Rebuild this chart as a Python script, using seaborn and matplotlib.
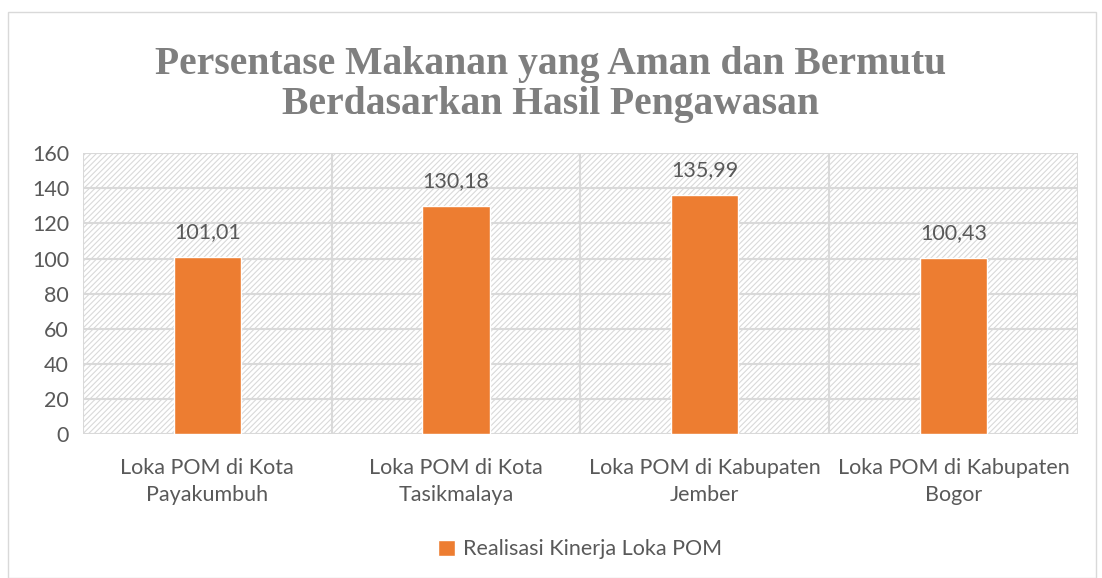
import numpy as np
import pandas as pd
import matplotlib.pyplot as plt
import seaborn as sns
from matplotlib.patches import Rectangle

kategori = ["Loka POM di Kota\nPayakumbuh", "Loka POM di Kota\nTasikmalaya",
            "Loka POM di Kabupaten\nJember", "Loka POM di Kabupaten\nBogor"]
nilai = [101.01, 130.18, 135.99, 100.43]
label_nilai = ["101,01", "130,18", "135,99", "100,43"]
seri = "Realisasi Kinerja Loka POM"
yticks = [0, 20, 40, 60, 80, 100, 120, 140, 160]

ORANYE = "#ED7D31"
ABU = "#595959"
GARIS = "#D9D9D9"
FS = 15.5


def main():
    sns.set_style("white")
    plt.rcParams["font.family"] = ["Lato", "DejaVu Sans"]
    plt.rcParams["hatch.linewidth"] = 0.8
    plt.rcParams["hatch.color"] = GARIS

    df = pd.DataFrame({"kategori": kategori, "nilai": nilai})

    fig = plt.figure(figsize=(11.02, 5.78), dpi=100)
    ax = fig.add_axes([0.0753, 0.249, 0.9027, 0.486])

    # latar belakang bergaris miring
    bg = Rectangle((0, 0), 1, 1, transform=ax.transAxes, facecolor="white",
                   edgecolor=GARIS, hatch="//////", linewidth=0, zorder=0)
    ax.add_patch(bg)

    sns.barplot(data=df, x="kategori", y="nilai", color=ORANYE, width=0.27,
                saturation=1, ax=ax, zorder=3, label=seri)

    for i, (v, t) in enumerate(zip(nilai, label_nilai)):
        ax.text(i, v + 8.5, t, ha="center", va="bottom", fontsize=FS, color=ABU, zorder=4)

    ax.set_ylim(0, 160)
    ax.set_xlim(-0.5, 3.5)
    ax.set_yticks(yticks)
    ax.set_yticklabels([str(y) for y in yticks], fontsize=FS, color=ABU)
    ax.set_xticks(range(len(kategori)))
    ax.set_xticklabels(kategori, fontsize=FS, color=ABU, linespacing=1.45)
    ax.tick_params(axis="y", length=0, pad=10)
    ax.tick_params(axis="x", length=0, pad=17)
    ax.set_xlabel("")
    ax.set_ylabel("")

    for y in yticks:
        ax.axhline(y, color=GARIS, linewidth=1.5, zorder=1)
    for x in [-0.5, 0.5, 1.5, 2.5, 3.5]:
        ax.axvline(x, color=GARIS, linewidth=1.5, zorder=1)
    for s in ax.spines.values():
        s.set_visible(False)

    fig.text(0.5, 0.92, "Persentase Makanan yang Aman dan Bermutu\nBerdasarkan Hasil Pengawasan",
             ha="center", va="top", fontsize=28.5, fontweight="bold", color="#7F7F7F",
             family=["Liberation Serif", "DejaVu Serif"], linespacing=1.1)

    leg = ax.legend(loc="center", bbox_to_anchor=(0.5, -0.41), frameon=False,
                    fontsize=FS, handlelength=0.75, handleheight=0.75, handletextpad=0.4)
    for t in leg.get_texts():
        t.set_color(ABU)

    # bingkai luar
    fig.patches.append(Rectangle((0.007, 0.0), 0.988, 0.98, transform=fig.transFigure,
                                 fill=False, edgecolor=GARIS, linewidth=1))

    plt.savefig("out.png", dpi=100)


if __name__ == "__main__":
    main()
